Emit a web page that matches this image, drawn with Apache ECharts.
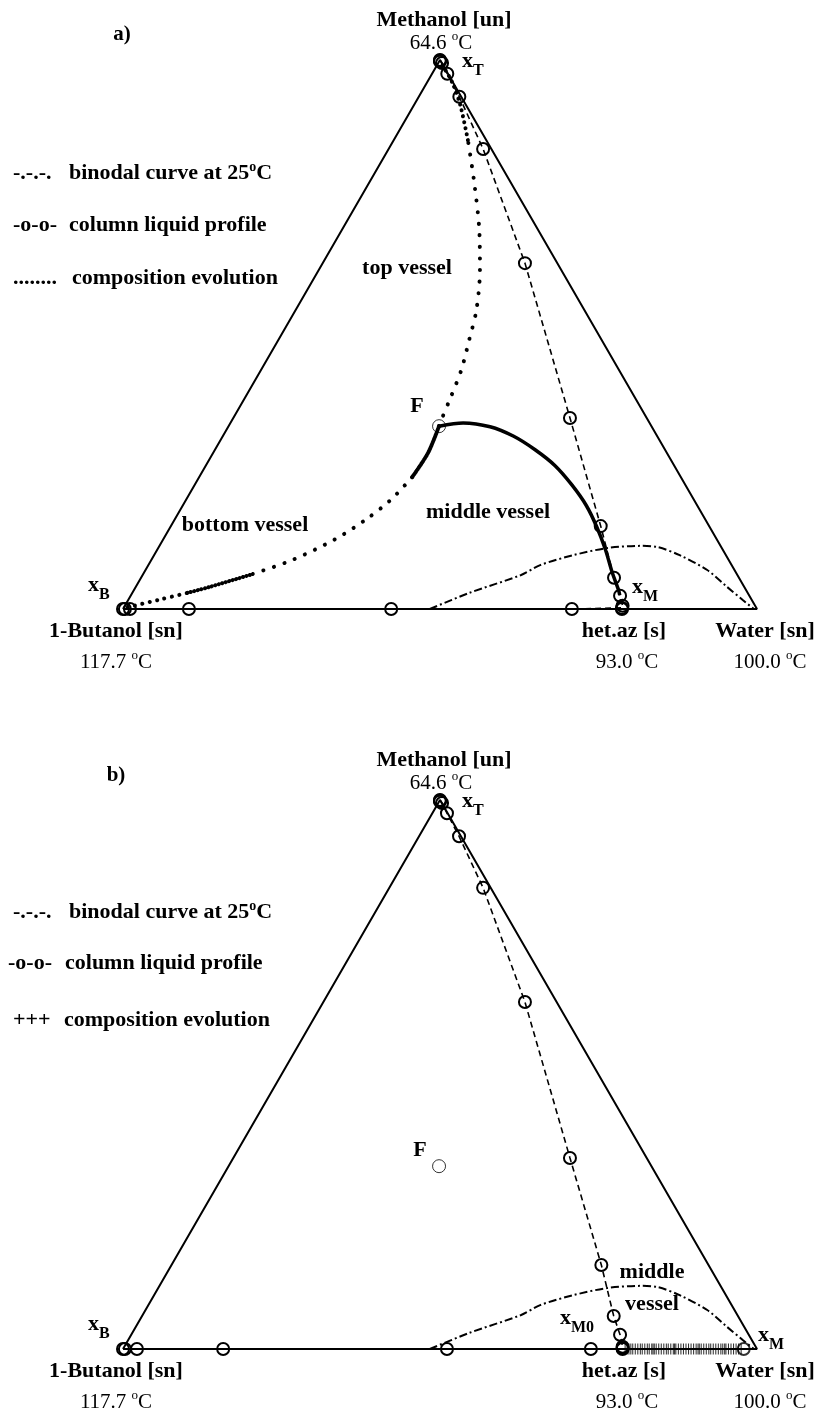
<!DOCTYPE html>
<html><head><meta charset="utf-8">
<script src="https://cdn.jsdelivr.net/npm/echarts@6/dist/echarts.min.js"></script>
<style>html,body{margin:0;padding:0;background:#fff}#c{width:818px;height:1414px}</style>
</head><body><div id="c"></div>
<script>
// All compositions are ternary mole fractions given as [methanol, water]
// (1-butanol = 1 - methanol - water).
const triangle = [[0, 0], [1, 0], [0, 1], [0, 0]]; // 1-Butanol, Methanol, Water

// binodal curve at 25 C
const binodal = [[0, 0.484], [0.029, 0.531], [0.062, 0.597], [0.080, 0.618], [0.098, 0.661],
  [0.111, 0.708], [0.115, 0.758], [0.113, 0.786], [0.098, 0.829], [0.071, 0.886],
  [0.040, 0.933], [0.016, 0.970], [0, 0.995]];

// column liquid profile, panel a (top -> het.az -> bottom)
const profileA = [[1, 0], [0.999, 0.0005], [0.997, 0.0015], [0.9945, 0.006], [0.975, 0.024],
  [0.933, 0.064], [0.838, 0.149], [0.630, 0.319], [0.348, 0.531], [0.151, 0.678],
  [0.057, 0.746], [0.024, 0.772], [0.006, 0.785], [0.002, 0.786], [0, 0.787],
  [0, 0.708], [0, 0.423], [0, 0.104], [0, 0.011], [0, 0.003], [0, 0]];

// column liquid profile, panel b
const profileB = [[1, 0], [0.999, 0.0005], [0.997, 0.0015], [0.9945, 0.006], [0.976, 0.023],
  [0.934, 0.063], [0.840, 0.148], [0.632, 0.318], [0.348, 0.531], [0.153, 0.678],
  [0.060, 0.744], [0.026, 0.771], [0.004, 0.786], [0.002, 0.787], [0, 0.788],
  [0, 0.738], [0, 0.511], [0, 0.158], [0, 0.022], [0, 0.003], [0, 0]];

// composition evolution, panel a
const topVesselA = [[0.333, 0.332], [0.344, 0.330], [0.386, 0.324], [0.435, 0.316], [0.490, 0.301],
  [0.545, 0.285], [0.618, 0.254], [0.690, 0.217], [0.781, 0.163], [0.854, 0.117],
  [0.918, 0.073], [0.960, 0.039], [0.990, 0.009]];
const bottomVesselA = [[0.333, 0.332], [0.284, 0.339], [0.240, 0.336], [0.199, 0.323], [0.162, 0.301],
  [0.126, 0.270], [0.089, 0.222], [0.062, 0.169], [0.040, 0.116], [0.029, 0.086],
  [0.018, 0.052], [0.004, 0.009], [0.001, 0.001]];
const middleVesselA = [[0.333, 0.332], [0.339, 0.367], [0.332, 0.413], [0.315, 0.458], [0.290, 0.505],
  [0.261, 0.551], [0.226, 0.595], [0.189, 0.636], [0.149, 0.673], [0.108, 0.707],
  [0.067, 0.738], [0.035, 0.764], [0.025, 0.771]];

// feed
const feed = [[0.333, 0.332]];

// composition evolution, panel b (middle vessel, water fraction on the binary edge)
const middleVesselB = [0.792, 0.795, 0.798, 0.801, 0.804, 0.808, 0.812, 0.816, 0.819, 0.823,
  0.827, 0.830, 0.834, 0.836, 0.838, 0.841, 0.845, 0.849, 0.853, 0.857, 0.860, 0.864,
  0.868, 0.870, 0.872, 0.876, 0.880, 0.884, 0.888, 0.892, 0.896, 0.900, 0.904, 0.907,
  0.909, 0.912, 0.916, 0.920, 0.924, 0.927, 0.931, 0.935, 0.939, 0.943, 0.946, 0.949,
  0.951, 0.955, 0.959, 0.963, 0.967, 0.971, 0.975];
const xMfinalB = [[0, 0.979]];

// ---------- rendering ----------
const SERIF = 'Liberation Serif';
function T(arr) { return arr.map(p => [p[1] + p[0] / 2, p[0]]); }

const chart = echarts.init(document.getElementById('c'), null, {renderer: 'canvas'});

function axes(i) {
  return {
    x: {type: 'value', gridIndex: i, min: 0, max: 1, show: false},
    y: {type: 'value', gridIndex: i, min: 0, max: 1, show: false}
  };
}
const a0 = axes(0), a1 = axes(1);

function line(gi, data, lineStyle, extra) {
  return Object.assign({
    type: 'line', xAxisIndex: gi, yAxisIndex: gi, data: T(data), symbol: 'none',
    clip: false, silent: true, z: 2,
    lineStyle: Object.assign({color: '#000', width: 1.5}, lineStyle)
  }, extra || {});
}
function dotted(gi, data, gap, z) {
  return line(gi, data, {type: [0.1, gap], cap: 'round', width: 4}, {smooth: 0.3, z: z || 3});
}
const circleStyle = {color: 'rgba(0,0,0,0)', borderColor: '#000', borderWidth: 2};

function panelSeries(gi, profile) {
  return [
    line(gi, triangle, {width: 2}),
    line(gi, binodal, {type: [8, 3, 2, 3], width: 2}, {smooth: 0.3}),
    line(gi, profile, {type: [6, 4], width: 1.6}, {
      symbol: 'circle', symbolSize: 12, showSymbol: true, showAllSymbol: true,
      itemStyle: circleStyle, z: 4
    }),
    {type: 'scatter', xAxisIndex: gi, yAxisIndex: gi, data: T(feed), symbol: 'circle', symbolSize: 13,
      itemStyle: {color: 'rgba(0,0,0,0)', borderColor: '#000', borderWidth: 1}, clip: false, silent: true, z: 5}
  ];
}

const series = [].concat(
  panelSeries(0, profileA),
  [
    dotted(0, topVesselA.slice(0, 10), 11.5),
    dotted(0, topVesselA.slice(9), 6),
    dotted(0, bottomVesselA.slice(0, 3), 1.5),
    dotted(0, bottomVesselA.slice(2, 8), 11),
    dotted(0, bottomVesselA.slice(7, 10), 3.5),
    dotted(0, bottomVesselA.slice(9), 7.5),
    line(0, middleVesselA, {width: 3.5}, {smooth: 0.3, z: 3})
  ],
  panelSeries(1, profileB),
  [
    {type: 'scatter', xAxisIndex: 1, yAxisIndex: 1, data: T(middleVesselB.map(w => [0, w])),
      symbol: 'path://M0,4.4L8,4.4L8,5.6L0,5.6Z M3.4,0L4.6,0L4.6,10L3.4,10Z', symbolSize: [7, 11],
      itemStyle: {color: '#000'}, clip: false, silent: true, z: 5},
    {type: 'scatter', xAxisIndex: 1, yAxisIndex: 1, data: T(xMfinalB), symbol: 'circle', symbolSize: 12,
      itemStyle: circleStyle, clip: false, silent: true, z: 5}
  ]
);

// ---------- texts ----------
function rich(size, weight) {
  return {
    s: {fontSize: Math.round(size * 0.62), fontWeight: weight, fontFamily: SERIF, fill: '#000', color: '#000',
        verticalAlign: 'top', lineHeight: 13},
  };
}
function txt(x, y, text, o) {
  const size = (o && o.fontSize) || 22;
  const weight = (o && o.fontWeight) || 'bold';
  return {
    type: 'text', x: x, y: y, silent: true, z: 10,
    style: Object.assign({
      text: text, fill: '#000', fontFamily: SERIF, fontSize: size, fontWeight: weight,
      align: 'center', verticalAlign: 'middle', lineHeight: 26, rich: rich(size, weight)
    }, o || {})
  };
}
function sub(xLeft, xCenterY, main, s) {
  return {
    type: 'text', x: xLeft, y: xCenterY - 13, silent: true, z: 10,
    style: {
      text: '{m|' + main + '}{t|' + s + '}', fill: '#000', fontFamily: SERIF, fontSize: 22, fontWeight: 'bold',
      align: 'left', verticalAlign: 'top',
      rich: {
        m: {fontSize: 22, fontWeight: 'bold', fontFamily: SERIF, fill: '#000', lineHeight: 22, verticalAlign: 'top'},
        t: {fontSize: 16, fontWeight: 'bold', fontFamily: SERIF, fill: '#000', lineHeight: 42}
      }
    }
  };
}
const REG = {fontWeight: 'normal', fontSize: 21};

function panelTexts(dy, bottomDy, legendRows, kind) {
  const g = [];
  const by = 609 + bottomDy;
  g.push(txt(444, 20 + dy, 'Methanol [un]'));
  g.push(txt(441, 43 + dy, '64.6 {s|o}C', REG));
  g.push(txt(116, by + 22, '1-Butanol [sn]'));
  g.push(txt(116, by + 53, '117.7 {s|o}C', REG));
  g.push(txt(624, by + 22, 'het.az [s]'));
  g.push(txt(627, by + 53, '93.0 {s|o}C', REG));
  g.push(txt(765, by + 22, 'Water [sn]'));
  g.push(txt(770, by + 53, '100.0 {s|o}C', REG));
  // legend
  const L = {align: 'left'};
  g.push(txt(13, legendRows[0], '-.-.-.', L));
  g.push(txt(69, legendRows[0], 'binodal curve at 25{s|o}C', L));
  g.push(txt(kind === 'a' ? 13 : 8, legendRows[1], '-o-o-', L));
  g.push(txt(kind === 'a' ? 69 : 65, legendRows[1], 'column liquid profile', L));
  g.push(txt(13, legendRows[2], kind === 'a' ? '........' : '+++', L));
  g.push(txt(kind === 'a' ? 72 : 64, legendRows[2], 'composition evolution', L));
  return g;
}

const graphics = [].concat(
  panelTexts(0, 0, [173, 225, 278], 'a'),
  [
    txt(122, 35, 'a)', {fontSize: 21}),
    txt(407, 268, 'top vessel'),
    txt(245, 525, 'bottom vessel'),
    txt(488, 512, 'middle vessel'),
    txt(417, 406, 'F'),
    sub(462, 63, 'x', 'T'),
    sub(88, 587, 'x', 'B'),
    sub(632, 589, 'x', 'M')
  ],
  panelTexts(740, 740, [912, 963, 1020], 'b'),
  [
    txt(116, 776, 'b)', {fontSize: 21}),
    txt(420, 1150, 'F'),
    txt(652, 1272, 'middle'),
    txt(652, 1304, 'vessel'),
    sub(462, 803, 'x', 'T'),
    sub(88, 1326, 'x', 'B'),
    sub(560, 1320, 'x', 'M0'),
    sub(758, 1337, 'x', 'M')
  ]
);

chart.setOption({
  animation: false,
  backgroundColor: '#fff',
  grid: [
    {left: 123, top: 60, width: 634, height: 549},
    {left: 123, top: 800, width: 634, height: 549}
  ],
  xAxis: [a0.x, a1.x],
  yAxis: [a0.y, a1.y],
  series: series,
  graphic: graphics
});
</script></body></html>
